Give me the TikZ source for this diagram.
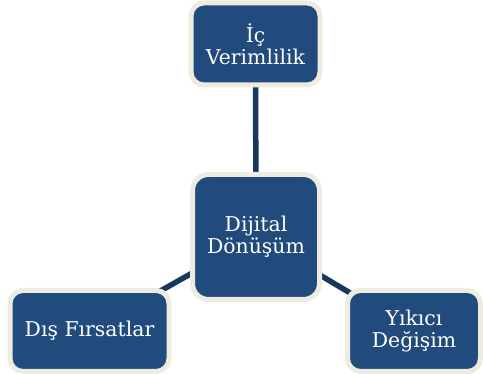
\documentclass[tikz,border=0pt]{standalone}
\usepackage{fontspec}
\setmainfont{DejaVu Serif}
\usetikzlibrary{backgrounds}

\definecolor{boxblue}{RGB}{33,74,125}
\definecolor{linkblue}{RGB}{23,55,94}
\definecolor{rimcream}{RGB}{238,236,225}

\begin{document}
\begin{tikzpicture}[
  x=1pt, y=1pt,
  theme/.style={draw=rimcream, line width=5pt, fill=boxblue, rounded corners=13pt,
    text=white, align=center, font=\fontsize{20.4}{22}\selectfont, inner sep=2pt, outer sep=0pt},
  link/.style={draw=linkblue, line width=5.5pt}
]
  \useasboundingbox (0,0) rectangle (483,374);

  \node[theme, minimum width=127pt, minimum height=125pt, rounded corners=16pt] (core) at (256,137) {Dijital\\Dönüşüm};
  \node[theme, minimum width=129pt, minimum height=82pt] (ic) at (255.5,330) {İç\\Verimlilik};
  \node[theme, minimum width=159pt, minimum height=81pt] (dis) at (89.5,43) {Dış Fırsatlar};
  \node[theme, minimum width=133pt, minimum height=81pt] (yik) at (414,43) {Yıkıcı\\Değişim};

  \begin{scope}[on background layer]
    \draw[link] (core.center) -- (ic.center);
    \draw[link] (core.center) -- (dis.center);
    \draw[link] (core.center) -- (yik.center);
  \end{scope}
\end{tikzpicture}
\end{document}
